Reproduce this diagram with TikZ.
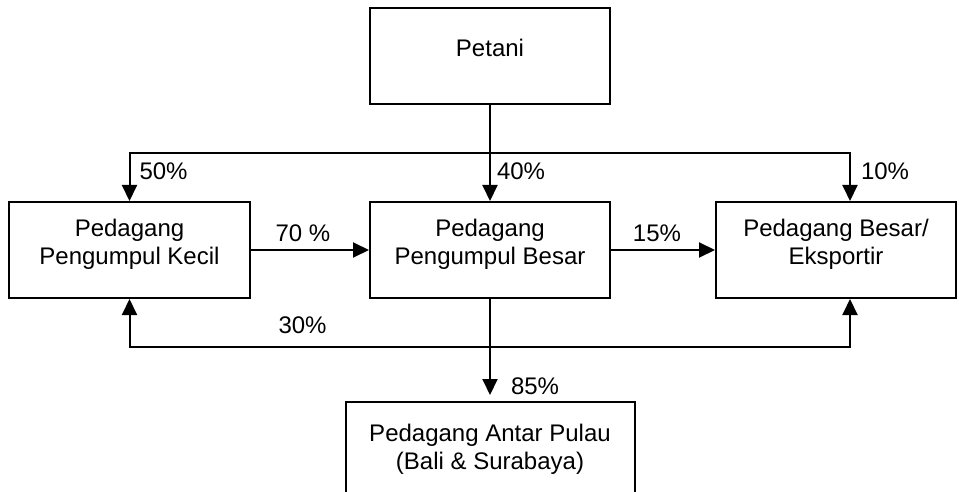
\documentclass[tikz,border=0pt]{standalone}
\usepackage{fontspec}
\setmainfont{Liberation Sans}
\usetikzlibrary{positioning, arrows.meta}
\tikzset{%
  box/.style={
    rectangle,
    draw,
    line width=2pt,
    align=center,
    minimum width=240pt,
    minimum height=96pt,
    text depth=17pt,
    font=\fontsize{24}{28}\selectfont
  },
  flow/.style={
    line width=2pt,
    -{Triangle[width=15pt, length=16pt]}
  },
  pct/.style={
    font=\fontsize{24}{28}\selectfont,
    inner sep=2pt
  }
}

\begin{document}
\begin{tikzpicture}[x=1pt, y=1pt]
		\useasboundingbox (0,0) rectangle (959,-492);
		% boxes
		\node[box] (petani) at (490,-56) {Petani};
		\node[box, below=96pt of petani] (besar) {Pedagang\\Pengumpul Besar};
		\node[box, minimum width=241pt, left=118pt of besar] (kecil) {Pedagang\\Pengumpul Kecil};
		\node[box, right=104pt of besar] (ekspor) {Pedagang Besar/\\Eksportir};
		\node[box, minimum width=289pt, minimum height=107pt, below=102pt of besar] (antar) {Pedagang Antar Pulau\\(Bali \& Surabaya)};
		% branch points
		\coordinate[below=48pt of petani.south] (split);
		\coordinate[below=48pt of besar.south] (loop);
		\coordinate[xshift=14pt] (ekin) at (ekspor.north);
		\coordinate[xshift=14pt] (ekout) at (ekspor.south);
		% from petani
		\draw[flow] (petani) -- node[pct, pos=0.69, right=4pt] (p40) {40\%} (besar);
		\draw[flow] (split) -| node[pct, pos=0.69, right=7pt] (p50) {50\%} (kecil.north);
		\draw[flow] (split) -| node[pct, pos=0.69, right=8pt] (p10) {10\%} (ekin);
		% middle row
		\draw[flow] (kecil) -- node[pct, above=5pt, xshift=-7pt] (p70) {70 \%} (besar);
		\draw[flow] (besar) -- node[pct, above=5pt, xshift=-6pt] (p15) {15\%} (ekspor);
		% from pengumpul besar
		\draw[flow, shorten >=6pt] (besar) -- node[pct, pos=0.86, right=18pt] (p85) {85\%} (antar);
		\draw[flow] (loop) -| node[pct, pos=0.26, above=10pt] (p30) {30\%} (kecil.south);
		\draw[flow] (loop) -| (ekout);
	\end{tikzpicture}
\end{document}
